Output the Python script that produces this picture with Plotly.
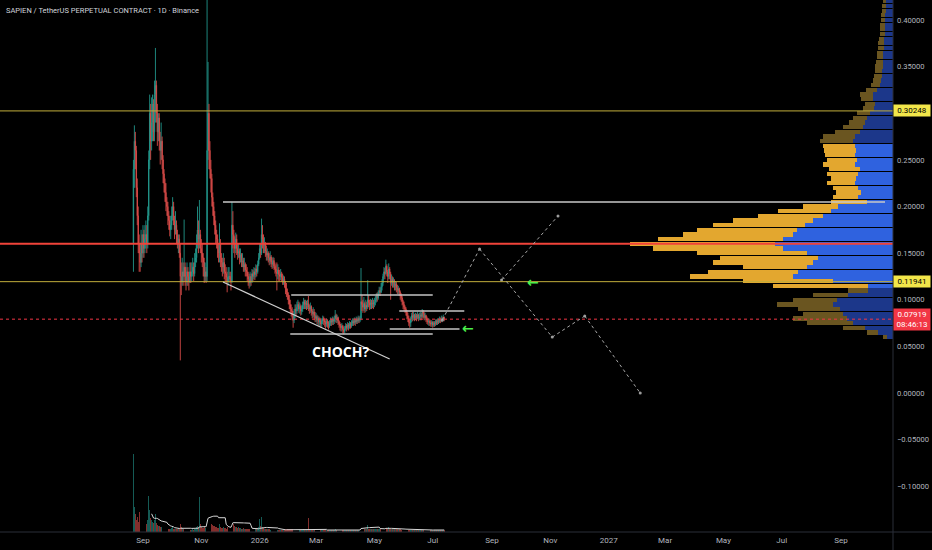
import pandas as pd
import plotly.graph_objects as go

# ---------------- data ----------------
TITLE = "SAPIEN / TetherUS PERPETUAL CONTRACT · 1D · Binance"
FIRST_DAY = "2025-08-22"
OPEN_FIRST = 0.16

CLOSE = [
    0.24, 0.27, 0.26, 0.22, 0.19, 0.16, 0.15, 0.14, 0.16, 0.15,
    0.17, 0.155, 0.165, 0.17, 0.16, 0.19, 0.25, 0.30, 0.27, 0.29,
    0.31, 0.28, 0.32, 0.33, 0.30, 0.28, 0.295, 0.27, 0.26, 0.27,
    0.25, 0.235, 0.225, 0.215, 0.205, 0.2, 0.19, 0.185, 0.175, 0.18,
    0.19, 0.2, 0.185, 0.175, 0.18, 0.17, 0.16, 0.165, 0.15, 0.125,
    0.12, 0.13, 0.125, 0.135, 0.125, 0.12, 0.13, 0.125, 0.12, 0.13,
    0.125, 0.13, 0.135, 0.128, 0.14, 0.145, 0.16, 0.175, 0.165, 0.17,
    0.155, 0.15, 0.145, 0.14, 0.125, 0.13, 0.125, 0.26, 0.30, 0.26,
    0.24, 0.23, 0.21, 0.2, 0.19, 0.18, 0.17, 0.165, 0.155, 0.15,
    0.16, 0.145, 0.14, 0.135, 0.14, 0.13, 0.128, 0.124, 0.12, 0.125,
    0.125, 0.122, 0.12, 0.18, 0.17, 0.16, 0.155, 0.165, 0.155, 0.15,
    0.152, 0.145, 0.148, 0.14, 0.142, 0.135, 0.138, 0.132, 0.13, 0.125,
    0.122, 0.118, 0.125, 0.12, 0.128, 0.125, 0.13, 0.127, 0.133, 0.13,
    0.138, 0.145, 0.155, 0.15, 0.17, 0.165, 0.158, 0.16, 0.152, 0.148,
    0.15, 0.145, 0.142, 0.146, 0.14, 0.138, 0.142, 0.136, 0.133, 0.13,
    0.128, 0.132, 0.127, 0.125, 0.128, 0.124, 0.12, 0.122, 0.118, 0.112,
    0.108, 0.105, 0.1, 0.095, 0.09, 0.088, 0.084, 0.078, 0.085, 0.09,
    0.088, 0.092, 0.095, 0.09, 0.093, 0.088, 0.09, 0.094, 0.098, 0.095,
    0.097, 0.094, 0.096, 0.092, 0.09, 0.093, 0.088, 0.085, 0.087, 0.083,
    0.08, 0.082, 0.078, 0.08, 0.076, 0.078, 0.074, 0.077, 0.08, 0.078,
    0.076, 0.074, 0.077, 0.075, 0.072, 0.075, 0.078, 0.076, 0.079, 0.077,
    0.08, 0.083, 0.079, 0.081, 0.077, 0.074, 0.072, 0.07, 0.072, 0.068,
    0.066, 0.069, 0.072, 0.07, 0.073, 0.071, 0.074, 0.072, 0.075, 0.077,
    0.075, 0.078, 0.076, 0.079, 0.077, 0.08, 0.078, 0.08, 0.098, 0.095,
    0.092, 0.096, 0.09, 0.094, 0.092, 0.1, 0.097, 0.094, 0.097, 0.095,
    0.097, 0.095, 0.098, 0.1, 0.104, 0.102, 0.107, 0.11, 0.108, 0.114,
    0.118, 0.125, 0.13, 0.128, 0.136, 0.13, 0.125, 0.133, 0.128, 0.118,
    0.122, 0.118, 0.12, 0.115, 0.117, 0.113, 0.11, 0.112, 0.108, 0.105,
    0.102, 0.098, 0.095, 0.092, 0.09, 0.087, 0.083, 0.08, 0.076, 0.075,
    0.079, 0.083, 0.081, 0.084, 0.08, 0.083, 0.081, 0.084, 0.08, 0.082,
    0.084, 0.082, 0.087, 0.085, 0.081, 0.083, 0.08, 0.078, 0.076, 0.077,
    0.075, 0.074, 0.076, 0.073, 0.075, 0.074, 0.077, 0.075, 0.078, 0.076,
    0.079, 0.077, 0.08, 0.078, 0.081, 0.07919,
]
HIGH = [
    0.25, 0.287, 0.28, 0.265, 0.23, 0.20, 0.17, 0.16, 0.175, 0.17,
    0.18, 0.175, 0.18, 0.185, 0.18, 0.20, 0.26, 0.32, 0.31, 0.317,
    0.32, 0.315, 0.335, 0.37, 0.335, 0.31, 0.30, 0.30, 0.28, 0.29,
    0.275, 0.255, 0.24, 0.23, 0.225, 0.21, 0.205, 0.195, 0.19, 0.19,
    0.20, 0.21, 0.205, 0.19, 0.195, 0.185, 0.175, 0.17, 0.17, 0.16,
    0.14, 0.145, 0.14, 0.186, 0.14, 0.135, 0.14, 0.135, 0.13, 0.14,
    0.14, 0.14, 0.145, 0.14, 0.15, 0.155, 0.17, 0.2, 0.185, 0.207,
    0.175, 0.165, 0.16, 0.15, 0.145, 0.14, 0.135, 0.425, 0.355, 0.31,
    0.27, 0.25, 0.235, 0.215, 0.205, 0.195, 0.185, 0.175, 0.17, 0.16,
    0.182, 0.165, 0.15, 0.145, 0.15, 0.145, 0.138, 0.135, 0.13, 0.135,
    0.135, 0.13, 0.13, 0.205, 0.195, 0.175, 0.168, 0.172, 0.17, 0.16,
    0.16, 0.155, 0.155, 0.15, 0.15, 0.145, 0.145, 0.14, 0.138, 0.135,
    0.13, 0.128, 0.13, 0.128, 0.133, 0.132, 0.135, 0.134, 0.138, 0.137,
    0.142, 0.15, 0.16, 0.16, 0.187, 0.18, 0.17, 0.167, 0.162, 0.158,
    0.155, 0.152, 0.15, 0.152, 0.148, 0.145, 0.146, 0.145, 0.14, 0.138,
    0.14, 0.138, 0.135, 0.132, 0.133, 0.13, 0.128, 0.126, 0.125, 0.12,
    0.118, 0.112, 0.108, 0.105, 0.1, 0.095, 0.092, 0.088, 0.09, 0.095,
    0.095, 0.098, 0.1, 0.098, 0.097, 0.095, 0.094, 0.098, 0.102, 0.1,
    0.1, 0.099, 0.1, 0.104, 0.095, 0.097, 0.094, 0.09, 0.092, 0.09,
    0.087, 0.086, 0.084, 0.083, 0.082, 0.081, 0.08, 0.08, 0.083, 0.082,
    0.08, 0.078, 0.08, 0.079, 0.077, 0.078, 0.081, 0.08, 0.082, 0.081,
    0.083, 0.089, 0.085, 0.084, 0.082, 0.078, 0.076, 0.074, 0.075, 0.073,
    0.071, 0.072, 0.075, 0.074, 0.076, 0.075, 0.077, 0.076, 0.078, 0.08,
    0.08, 0.081, 0.08, 0.082, 0.081, 0.083, 0.082, 0.083, 0.134, 0.105,
    0.1, 0.103, 0.098, 0.1, 0.098, 0.121, 0.105, 0.1, 0.101, 0.1,
    0.102, 0.1, 0.102, 0.104, 0.107, 0.108, 0.11, 0.114, 0.113, 0.118,
    0.122, 0.128, 0.135, 0.134, 0.143, 0.138, 0.132, 0.139, 0.135, 0.13,
    0.127, 0.125, 0.124, 0.122, 0.12, 0.119, 0.116, 0.115, 0.113, 0.11,
    0.107, 0.104, 0.1, 0.098, 0.094, 0.092, 0.089, 0.086, 0.083, 0.079,
    0.082, 0.086, 0.087, 0.087, 0.085, 0.086, 0.085, 0.087, 0.085, 0.086,
    0.087, 0.086, 0.09, 0.089, 0.087, 0.086, 0.084, 0.082, 0.08, 0.08,
    0.079, 0.078, 0.078, 0.077, 0.077, 0.077, 0.079, 0.079, 0.08, 0.08,
    0.082, 0.081, 0.083, 0.082, 0.084, 0.082,
]
LOW = [
    0.13, 0.22, 0.24, 0.21, 0.18, 0.15, 0.13, 0.13, 0.135, 0.14,
    0.145, 0.145, 0.15, 0.155, 0.15, 0.155, 0.185, 0.24, 0.25, 0.26,
    0.27, 0.27, 0.27, 0.29, 0.29, 0.265, 0.27, 0.26, 0.245, 0.25,
    0.24, 0.225, 0.215, 0.205, 0.195, 0.19, 0.18, 0.175, 0.168, 0.165,
    0.175, 0.185, 0.18, 0.165, 0.17, 0.16, 0.155, 0.15, 0.145, 0.035,
    0.105, 0.115, 0.115, 0.12, 0.115, 0.11, 0.115, 0.115, 0.11, 0.118,
    0.118, 0.12, 0.125, 0.12, 0.125, 0.135, 0.14, 0.155, 0.15, 0.155,
    0.15, 0.14, 0.135, 0.125, 0.118, 0.12, 0.118, 0.12, 0.25, 0.24,
    0.23, 0.215, 0.2, 0.19, 0.18, 0.17, 0.16, 0.155, 0.145, 0.14,
    0.14, 0.135, 0.13, 0.125, 0.128, 0.122, 0.12, 0.118, 0.108, 0.115,
    0.12, 0.118, 0.11, 0.118, 0.155, 0.15, 0.145, 0.15, 0.148, 0.143,
    0.145, 0.138, 0.14, 0.135, 0.135, 0.13, 0.13, 0.125, 0.125, 0.12,
    0.115, 0.112, 0.114, 0.115, 0.118, 0.12, 0.122, 0.121, 0.124, 0.125,
    0.128, 0.136, 0.143, 0.145, 0.148, 0.155, 0.15, 0.15, 0.146, 0.142,
    0.142, 0.14, 0.137, 0.138, 0.135, 0.133, 0.134, 0.132, 0.128, 0.125,
    0.11, 0.122, 0.12, 0.12, 0.121, 0.119, 0.116, 0.116, 0.113, 0.106,
    0.103, 0.1, 0.095, 0.09, 0.086, 0.082, 0.078, 0.07, 0.075, 0.08,
    0.082, 0.085, 0.088, 0.086, 0.085, 0.083, 0.084, 0.087, 0.09, 0.09,
    0.09, 0.089, 0.09, 0.088, 0.085, 0.086, 0.083, 0.08, 0.081, 0.078,
    0.076, 0.076, 0.074, 0.073, 0.072, 0.072, 0.07, 0.071, 0.074, 0.073,
    0.071, 0.069, 0.071, 0.07, 0.068, 0.07, 0.072, 0.072, 0.073, 0.073,
    0.074, 0.076, 0.075, 0.075, 0.073, 0.07, 0.067, 0.066, 0.066, 0.064,
    0.063, 0.064, 0.067, 0.066, 0.068, 0.067, 0.069, 0.069, 0.07, 0.072,
    0.072, 0.073, 0.072, 0.074, 0.074, 0.075, 0.075, 0.076, 0.078, 0.088,
    0.086, 0.088, 0.086, 0.087, 0.088, 0.09, 0.092, 0.089, 0.09, 0.09,
    0.091, 0.09, 0.092, 0.094, 0.097, 0.098, 0.1, 0.104, 0.104, 0.107,
    0.11, 0.115, 0.122, 0.122, 0.127, 0.125, 0.118, 0.122, 0.122, 0.1,
    0.115, 0.113, 0.113, 0.11, 0.11, 0.108, 0.106, 0.106, 0.104, 0.1,
    0.098, 0.094, 0.09, 0.088, 0.086, 0.083, 0.079, 0.076, 0.072, 0.07,
    0.071, 0.076, 0.077, 0.078, 0.077, 0.078, 0.077, 0.079, 0.077, 0.078,
    0.078, 0.078, 0.08, 0.08, 0.078, 0.078, 0.076, 0.074, 0.073, 0.072,
    0.072, 0.071, 0.071, 0.07, 0.071, 0.071, 0.072, 0.073, 0.073, 0.074,
    0.075, 0.075, 0.076, 0.076, 0.077, 0.077,
]
VOLUME = [
    78, 25, 18, 12, 15, 10, 20, 28, 14, 10,
    8, 7, 9, 6, 8, 12, 36, 22, 14, 12,
    10, 9, 12, 18, 9, 7, 6, 6, 5, 5,
    4, 4, 4, 3, 3, 4, 3, 3, 3, 3,
    4, 5, 3, 3, 3, 3, 3, 4, 4, 8,
    5, 4, 3, 10, 3, 3, 3, 2, 2, 2,
    2, 2, 3, 2, 3, 3, 5, 6, 5, 35,
    8, 5, 4, 4, 6, 4, 4, 133, 39, 12,
    12, 10, 8, 7, 6, 6, 5, 5, 4, 4,
    8, 5, 4, 4, 5, 4, 4, 3, 5, 4,
    3, 4, 4, 50, 54, 8, 6, 5, 5, 4,
    5, 4, 4, 3, 3, 4, 3, 3, 3, 3,
    3, 3, 3, 3, 2, 3, 3, 3, 3, 4,
    4, 5, 13, 6, 15, 5, 4, 3, 3, 3,
    3, 3, 3, 2, 2, 2, 2, 2, 2, 2,
    3, 2, 2, 2, 2, 2, 2, 2, 2, 3,
    3, 3, 3, 3, 3, 3, 3, 4, 3, 3,
    2, 2, 2, 2, 2, 2, 2, 2, 3, 2,
    2, 2, 2, 14, 2, 2, 2, 2, 2, 2,
    2, 2, 2, 2, 2, 2, 2, 2, 2, 2,
    2, 2, 2, 2, 2, 2, 2, 2, 2, 2,
    2, 3, 2, 2, 2, 2, 2, 2, 2, 2,
    2, 2, 2, 2, 2, 2, 2, 2, 2, 2,
    2, 2, 2, 2, 2, 2, 2, 2, 32, 6,
    4, 4, 3, 3, 3, 7, 3, 3, 3, 3,
    3, 3, 3, 3, 3, 3, 3, 3, 3, 3,
    3, 3, 3, 3, 12, 4, 3, 5, 3, 4,
    3, 3, 3, 3, 3, 3, 3, 3, 3, 3,
    2, 2, 2, 2, 2, 2, 2, 2, 2, 2,
    2, 2, 2, 2, 2, 2, 2, 2, 2, 2,
    2, 2, 2, 2, 2, 2, 2, 2, 2, 2,
    2, 2, 2, 2, 2, 2, 2, 2, 2, 2,
    2, 2, 2, 2, 2, 2,
]
VOLUME_MA_LENGTH = 20
LAST_PRICE = 0.07919
COUNTDOWN = "08:46:13"
YELLOW_LEVELS = [0.30248, 0.11941]

# visible-range volume profile, rows from bottom (0.06) to top (0.42)
PROFILE_START = 0.06
PROFILE_ROW = 0.005
PROFILE_UP = [
    4, 11, 22, 46, 54, 40, 42, 56, 44, 35,
    20, 95, 90, 103, 90, 64, 100, 98, 110, 130,
    145, 125, 110, 100, 92, 80, 65, 53, 35, 36,
    25, 25, 25, 28, 25, 31, 31, 32, 30, 30,
    32, 32, 33, 32, 25, 20, 16, 14, 13, 11,
    10, 12, 13, 11, 9, 8, 8, 7, 8, 7,
    6, 6, 6, 6, 5, 5, 5, 5, 4, 4,
    4, 4, 3,
]
PROFILE_DOWN = [
    6, 15, 28, 40, 46, 50, 53, 60, 56, 45,
    25, 25, 60, 100, 95, 86, 80, 75, 86, 110,
    118, 110, 100, 96, 88, 80, 70, 62, 55, 26,
    35, 32, 35, 38, 37, 35, 33, 38, 36, 38,
    37, 38, 40, 38, 33, 30, 28, 26, 23, 19,
    18, 20, 20, 16, 13, 12, 11, 11, 10, 10,
    10, 10, 9, 9, 9, 8, 8, 8, 8, 8,
    7, 7, 7,
]
VALUE_AREA = (0.115, 0.265)

PRICE_TICKS = [0.40, 0.35, 0.25, 0.20, 0.15, 0.10, 0.05, 0.0, -0.05, -0.10]
PRICE_TICK_TEXT = ["0.40000", "0.35000", "0.25000", "0.20000", "0.15000",
                   "0.10000", "0.05000", "0.00000", "\u22120.05000", "\u22120.10000"]
TIME_TICKS = ["2025-09-01", "2025-11-01", "2026-01-01", "2026-03-01", "2026-05-01",
              "2026-07-01", "2026-09-01", "2026-11-01", "2027-01-01", "2027-03-01",
              "2027-05-01", "2027-07-01", "2027-09-01"]
TIME_TICK_TEXT = ["Sep", "Nov", "2026", "Mar", "May", "Jul", "Sep", "Nov", "2027",
                  "Mar", "May", "Jul", "Sep"]

# drawings (date, price)
RAY_HIGH = [("2025-11-23 16:00", 0.2048), ("2027-10-17", 0.2048)]
BOXES = [
    [("2026-02-03", 0.1051), ("2026-07-01", 0.1051)],
    [("2026-02-02", 0.0633), ("2026-07-01", 0.0633)],
    [("2026-05-27", 0.0879), ("2026-08-03", 0.0879)],
    [("2026-05-17", 0.0686), ("2026-07-29", 0.0686)],
]
TRENDLINE = [("2025-11-23 16:00", 0.119), ("2026-05-17", 0.0365)]
PATH_A = [("2026-07-11", 0.0783), ("2026-08-19", 0.1544), ("2026-11-03", 0.060),
          ("2026-12-07", 0.0826), ("2027-02-03", 0.0)]
PATH_B = [("2026-09-11", 0.1212), ("2026-11-09", 0.1898)]
ARROWS = [("2026-10-14", 0.11941), ("2026-08-07", 0.0697)]
CHOCH = ("2026-03-27", 0.045, "CHOCH?")

# ---------------- figure ----------------
BG = "#000000"
AXIS_TXT = "#b2b5be"
UP_C, DN_C = "#26a69a", "#ef5350"

dates = pd.date_range(FIRST_DAY, periods=len(CLOSE), freq="D")
opens = [OPEN_FIRST] + CLOSE[:-1]
vol_ma = pd.Series(VOLUME).rolling(VOLUME_MA_LENGTH).mean()

rows = [round(PROFILE_START + i * PROFILE_ROW, 4) for i in range(len(PROFILE_UP))]
in_va = [VALUE_AREA[0] - 1e-9 <= r <= VALUE_AREA[1] + 1e-9 for r in rows]
up_cols = ["#e3a72f" if v else "#6a5520" for v in in_va]
dn_cols = ["#2f62df" if v else "#1c378a" for v in in_va]
totals = [u + d for u, d in zip(PROFILE_UP, PROFILE_DOWN)]
poc_price = rows[totals.index(max(totals))]

fig = go.Figure()

# volume profile (anchored to the right edge)
fig.add_trace(go.Bar(orientation="h", y=rows, x=PROFILE_DOWN, base=0,
                     width=PROFILE_ROW * 0.9, marker=dict(color=dn_cols, line_width=0),
                     xaxis="x2", yaxis="y", hoverinfo="skip"))
fig.add_trace(go.Bar(orientation="h", y=rows, x=PROFILE_UP, base=PROFILE_DOWN,
                     width=PROFILE_ROW * 0.9, marker=dict(color=up_cols, line_width=0),
                     xaxis="x2", yaxis="y", hoverinfo="skip"))

# volume
vcols = ["rgba(38,166,154,0.55)" if c >= o else "rgba(239,83,80,0.55)" for o, c in zip(opens, CLOSE)]
fig.add_trace(go.Bar(x=dates, y=VOLUME, marker=dict(color=vcols, line_width=0),
                     width=86400000 * 0.75, xaxis="x", yaxis="y2", hoverinfo="skip"))
fig.add_trace(go.Scatter(x=dates, y=vol_ma, mode="lines", line=dict(color="#d8d8d8", width=1),
                         xaxis="x", yaxis="y2", hoverinfo="skip"))

# candles
fig.add_trace(go.Candlestick(x=dates, open=opens, high=HIGH, low=LOW, close=CLOSE,
                             increasing=dict(line=dict(color=UP_C, width=0.9), fillcolor=UP_C),
                             decreasing=dict(line=dict(color=DN_C, width=0.9), fillcolor=DN_C),
                             whiskerwidth=0, opacity=0.9, xaxis="x", yaxis="y", hoverinfo="skip"))

# vertex markers of the projected paths
for path in (PATH_A, PATH_B):
    fig.add_trace(go.Scatter(x=[p[0] for p in path], y=[p[1] for p in path], mode="markers",
                             marker=dict(size=3, color="#9a9a9a"), hoverinfo="skip"))

shapes = []
for lvl in YELLOW_LEVELS:
    shapes.append(dict(type="line", xref="paper", x0=0, x1=1, yref="y", y0=lvl, y1=lvl,
                       line=dict(color="#c2ae3c", width=1)))
shapes.append(dict(type="line", xref="paper", x0=0, x1=1, yref="y", y0=poc_price, y1=poc_price,
                   line=dict(color="#f0433a", width=2)))
shapes.append(dict(type="line", xref="paper", x0=0, x1=1, yref="y", y0=LAST_PRICE, y1=LAST_PRICE,
                   line=dict(color="#f23645", width=1, dash="dot")))


def seg(p0, p1, color, width=1.5, dash="solid"):
    return dict(type="line", xref="x", yref="y", x0=p0[0], y0=p0[1], x1=p1[0], y1=p1[1],
                line=dict(color=color, width=width, dash=dash))


shapes.append(seg(RAY_HIGH[0], RAY_HIGH[1], "#c8c8c8", 1.5))
for b in BOXES:
    shapes.append(seg(b[0], b[1], "#c4c4c4", 1.5))
shapes.append(seg(TRENDLINE[0], TRENDLINE[1], "#d0d0d0", 1.2))
for path in (PATH_A, PATH_B):
    for a, b in zip(path[:-1], path[1:]):
        shapes.append(seg(a, b, "#a8a8a8", 1, "dot"))
# axis separators
shapes.append(dict(type="line", xref="paper", yref="paper", x0=1, x1=1, y0=-0.04, y1=1,
                   line=dict(color="#2a2e39", width=1)))
shapes.append(dict(type="line", xref="paper", yref="paper", x0=0, x1=1.05, y0=0, y1=0,
                   line=dict(color="#2a2e39", width=1)))

annotations = [
    dict(xref="paper", yref="paper", x=0, y=1, xanchor="left", yanchor="top", xshift=4, yshift=-4,
         text=TITLE, showarrow=False, font=dict(family="Roboto", size=7.5, color="#d1d4dc")),
    dict(x=CHOCH[0], y=CHOCH[1], text="<b>" + CHOCH[2] + "</b>", showarrow=False,
         font=dict(family="Open Sans", size=14, color="#ffffff")),
]
for d, p in ARROWS:
    annotations.append(dict(x=d, y=p, text="<b>\u2190</b>", showarrow=False,
                            font=dict(family="DejaVu Sans", size=14, color="#4cf04c")))
for lvl in YELLOW_LEVELS:
    annotations.append(dict(xref="paper", x=1, xanchor="left", yref="y", y=lvl, text=f"{lvl:.5f}",
                            showarrow=False, bgcolor="#f2e64a", borderpad=1, width=34,
                            font=dict(family="Roboto", size=8, color="#000000")))
annotations.append(dict(xref="paper", x=1, xanchor="left", yref="y", y=LAST_PRICE,
                        text=f"{LAST_PRICE:.5f}<br>{COUNTDOWN}", showarrow=False,
                        bgcolor="#f23645", borderpad=1, width=34,
                        font=dict(family="Roboto", size=8, color="#ffffff")))

PX_PER_DAY = 0.9562
PLOT_W = 893
anchor = pd.Timestamp(TIME_TICKS[0])
anchor_px = 143
x_start = anchor - pd.Timedelta(days=anchor_px / PX_PER_DAY)
x_end = anchor + pd.Timedelta(days=(PLOT_W - anchor_px) / PX_PER_DAY)
profile_max = max(totals)

fig.update_layout(
    width=932, height=550,
    margin=dict(l=0, r=39, t=0, b=18),
    paper_bgcolor=BG, plot_bgcolor=BG,
    showlegend=False, barmode="overlay", bargap=0,
    font=dict(family="Roboto", color=AXIS_TXT),
    xaxis=dict(type="date", range=[x_start, x_end], tickvals=TIME_TICKS, ticktext=TIME_TICK_TEXT,
               showgrid=False, zeroline=False, ticks="", showline=False, automargin=False,
               tickfont=dict(size=8, color=AXIS_TXT), ticklabelstandoff=2,
               rangeslider=dict(visible=False), fixedrange=True),
    xaxis2=dict(overlaying="x", range=[profile_max / 0.2945, 0], visible=False, fixedrange=True),
    yaxis=dict(side="right", range=[-0.149, 0.4214], tickvals=PRICE_TICKS, ticktext=PRICE_TICK_TEXT,
               showgrid=False, zeroline=False, ticks="", showline=False, automargin=False,
               tickfont=dict(size=7.6, color=AXIS_TXT), ticklabelstandoff=3, fixedrange=True),
    yaxis2=dict(overlaying="y", range=[0, max(VOLUME) * 4], visible=False, fixedrange=True),
    shapes=shapes,
    annotations=annotations,
)

fig.write_html(
    "out.html",
    config={"displayModeBar": False},
    post_script="document.body.style.margin='0';document.body.style.overflow='hidden';"
                "document.body.style.background='#000';",
)
